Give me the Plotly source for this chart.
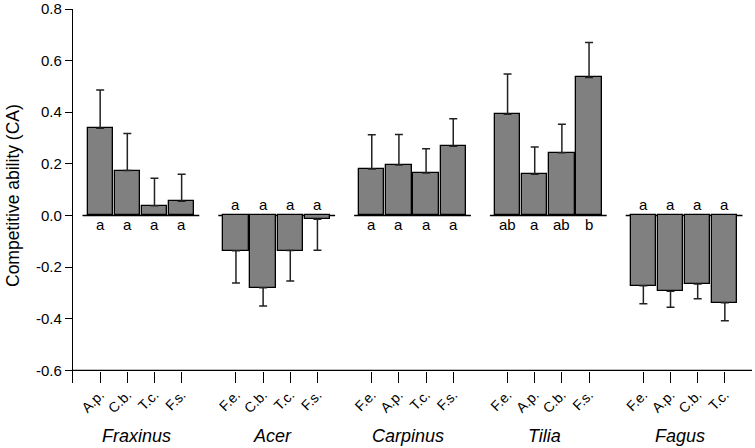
import plotly.graph_objects as go

# ---- data ----
groups = ["Fraxinus", "Acer", "Carpinus", "Tilia", "Fagus"]
bar_labels = [
    ["A.p.", "C.b.", "T.c.", "F.s."],
    ["F.e.", "C.b.", "T.c.", "F.s."],
    ["F.e.", "A.p.", "T.c.", "F.s."],
    ["F.e.", "A.p.", "C.b.", "F.s."],
    ["F.e.", "A.p.", "C.b.", "T.c."],
]
ca_values = [
    [0.338, 0.174, 0.038, 0.055],
    [-0.137, -0.280, -0.136, -0.015],
    [0.180, 0.196, 0.165, 0.268],
    [0.392, 0.160, 0.243, 0.535],
    [-0.272, -0.294, -0.265, -0.338],
]
se_values = [
    [0.148, 0.144, 0.106, 0.105],
    [0.125, 0.071, 0.118, 0.120],
    [0.133, 0.118, 0.094, 0.107],
    [0.156, 0.105, 0.110, 0.135],
    [0.070, 0.062, 0.058, 0.070],
]
letters = [
    ["a", "a", "a", "a"],
    ["a", "a", "a", "a"],
    ["a", "a", "a", "a"],
    ["ab", "a", "ab", "b"],
    ["a", "a", "a", "a"],
]
y_ticks = [-0.6, -0.4, -0.2, 0.0, 0.2, 0.4, 0.6, 0.8]
y_ticktext = ["-0.6", "-0.4", "-0.2", "0.0", "0.2", "0.4", "0.6", "0.8"]

# ---- build ----
FONT = "Liberation Sans, Arial, sans-serif"
xs, ys, ep, em, tt = [], [], [], [], []
for gi in range(len(groups)):
    for bi in range(4):
        pos = gi * 5 + bi
        v = ca_values[gi][bi]
        e = se_values[gi][bi]
        xs.append(pos)
        ys.append(v)
        ep.append(e if v >= 0 else 0)
        em.append(e if v < 0 else 0)
        tt.append(bar_labels[gi][bi])

fig = go.Figure()
fig.add_trace(go.Bar(
    x=xs, y=ys, width=0.93,
    marker=dict(color="#808080", line=dict(color="#000000", width=1.3)),
    error_y=dict(type="data", array=ep, arrayminus=em, symmetric=False,
                 color="#222222", thickness=1.5, width=4),
    showlegend=False, hoverinfo="skip",
))

shapes = []
annotations = []
for gi, g in enumerate(groups):
    start = gi * 5
    shapes.append(dict(type="line", xref="x", yref="y", x0=start - 0.65, x1=start + 3.65,
                       y0=0, y1=0, line=dict(color="#000000", width=1.3), layer="below"))
    annotations.append(dict(x=start + 1.5 - 0.15, y=-0.143, xref="x", yref="paper",
                            text=f"<i>{g}</i>", showarrow=False,
                            font=dict(family=FONT, size=18, color="#000000"),
                            xanchor="center", yanchor="middle"))
    for bi in range(4):
        v = ca_values[gi][bi]
        if v >= 0:
            annotations.append(dict(x=start + bi, y=0, xref="x", yref="y", text=letters[gi][bi],
                                    showarrow=False, xanchor="center", yanchor="top", yshift=1,
                                    font=dict(family=FONT, size=15, color="#000000")))
        else:
            annotations.append(dict(x=start + bi, y=0, xref="x", yref="y", text=letters[gi][bi],
                                    showarrow=False, xanchor="center", yanchor="bottom", yshift=0,
                                    font=dict(family=FONT, size=15, color="#000000")))

# y-axis title as annotation for exact placement
annotations.append(dict(x=0, y=0.5, xref="paper", yref="paper", xshift=13 - 73,
                        text="Competitive ability (CA)", showarrow=False, textangle=-90,
                        font=dict(family=FONT, size=17.5, color="#000000"),
                        xanchor="center", yanchor="middle"))

# x axis baseline at -0.6
shapes.append(dict(type="line", xref="paper", yref="y", x0=0, x1=1, y0=-0.6, y1=-0.6,
                   line=dict(color="#000000", width=1.3)))

fig.update_layout(
    width=755, height=448,
    margin=dict(l=73, r=3, t=9, b=65, autoexpand=False),
    paper_bgcolor="white", plot_bgcolor="white",
    font=dict(family=FONT, color="#000000"),
    shapes=shapes, annotations=annotations,
    bargap=0,
)
fig.update_xaxes(
    range=[-1, 24], tickmode="array", tickvals=xs, ticktext=tt, tickangle=-45,
    ticks="inside", ticklen=11, tickwidth=1.3, tickcolor="#000000",
    showline=False, showgrid=False, zeroline=False, automargin=False,
    tickfont=dict(family=FONT, size=14, color="#000000"),
)
fig.update_yaxes(
    range=[-0.649, 0.8], tickmode="array", tickvals=y_ticks, ticktext=y_ticktext,
    ticks="outside", ticklen=7, tickwidth=1.3, tickcolor="#000000",
    showline=True, linecolor="#000000", linewidth=1.3,
    showgrid=False, zeroline=False, automargin=False,
    tickfont=dict(family=FONT, size=15, color="#000000"),
)

fig.write_html("out.html", config={"displayModeBar": False},
               post_script="document.body.style.margin='0px';document.body.style.padding='0px';")
